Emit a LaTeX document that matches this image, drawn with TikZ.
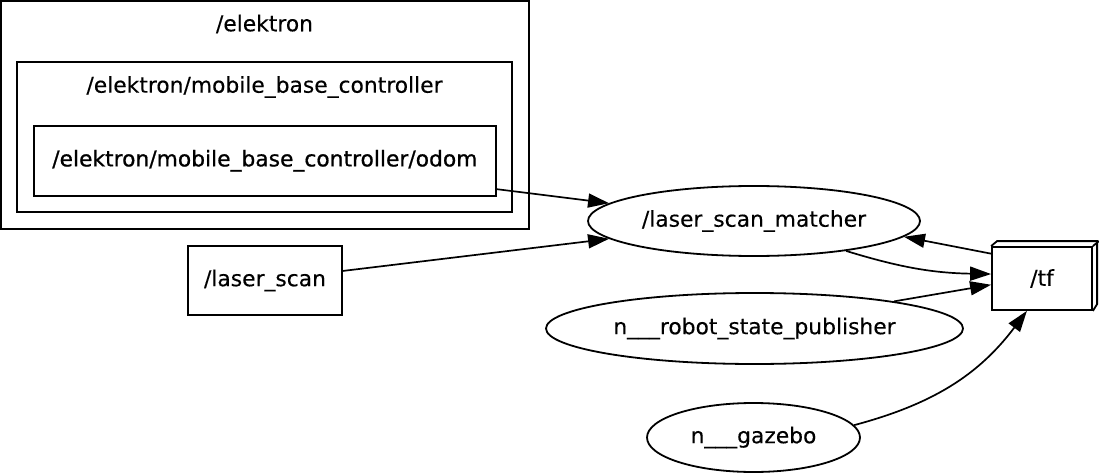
\documentclass[tikz,border=0pt]{standalone}
\usepackage{fontspec}
\setmainfont[FakeBold=0.3]{DejaVu Sans}
\newfontfamily\heavyfont[FakeBold=0.8]{DejaVu Sans}
\usetikzlibrary{shapes.geometric,arrows.meta}
\tikzset{
    box/.style={draw, rectangle, line width=1.8pt, inner sep=0pt},
    topic/.style={box},
    rosnode/.style={draw, ellipse, line width=1.8pt, inner sep=0pt},
    lbl/.style={inner sep=0pt},
    edge/.style={line width=1.7pt, -{Triangle[length=21pt,width=14pt]}},
}
\begin{document}
\begin{tikzpicture}[x=1pt, y=-1pt, font=\fontsize{21.8pt}{26pt}\selectfont]
    \useasboundingbox (0,0) rectangle (1099,473);
    % namespace boxes
    \node[box, minimum width=527.7pt, minimum height=227.7pt] (elektron) at (265.15,115.15) {};
    \node[lbl] (elektronlbl) at (264.5,24) {/elektron};
    \node[box, minimum width=495.6pt, minimum height=150pt] (mbc) at (264.5,137.3) {};
    \node[lbl] (mbclbl) at (264.5,87) {/elektron/mobile\_base\_controller};
    \node[topic, minimum width=461.7pt, minimum height=70pt] (odom) at (264.85,160.7)
        {\heavyfont /elektron/mobile\_base\_controller/odom};
    % topics
    \node[topic, minimum width=153.4pt, minimum height=69pt] (scan) at (265,280.5) {/laser\_scan};
    \node[topic, minimum width=100pt, minimum height=63pt] (tf) at (1042,278.5) {/tf};
    \draw[line width=1.8pt, line join=miter] (tf.north west) -- ++(6,-5) -- ++(100,0) -- ++(0,63) -- (tf.south east);
    \draw[line width=1.8pt] (tf.north east) -- ++(6,-5);
    % nodes
    \node[rosnode, minimum width=332pt, minimum height=70pt] (matcher) at (754,221) {/laser\_scan\_matcher};
    \node[rosnode, minimum width=417pt, minimum height=71pt] (rsp) at (754.5,328.5) {n\_\_\_robot\_state\_publisher};
    \node[rosnode, minimum width=213pt, minimum height=69pt] (gazebo) at (753.5,437.5) {n\_\_\_gazebo};
    % connections
    \draw[edge] (odom.-7) -- (matcher.173);
    \draw[edge] (scan.7) -- (matcher.187);
    \draw[edge] (tf.154) -- (matcher.-6);
    \draw[edge] (matcher.-18) to[bend right=8] (tf.175);
    \draw[edge] (rsp.11) -- (tf.187);
    \draw[edge] (gazebo.7) to[out=15, in=-127] (tf.-115);
\end{tikzpicture}
\end{document}
